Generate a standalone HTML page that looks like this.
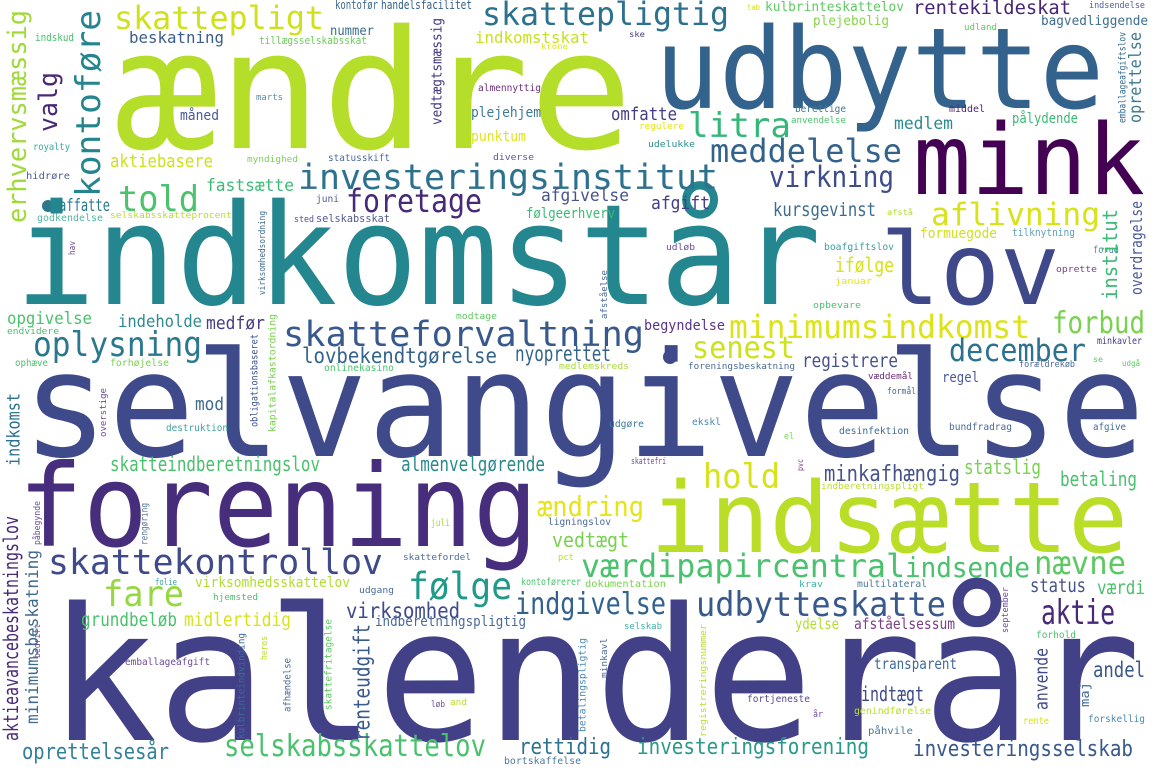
<!DOCTYPE html>
<html><head><meta charset="utf-8"><style>
html,body{margin:0;padding:0;background:#fff;width:1155px;height:770px;overflow:hidden}
svg{display:block}
text{font-family:"DejaVu Sans Mono","Liberation Mono",monospace}
</style></head><body>
<svg id="cloud" width="1155" height="770" viewBox="0 0 1155 770" xmlns="http://www.w3.org/2000/svg">
<rect width="1155" height="770" fill="#fff"/>
<circle cx="48" cy="206" r="6" fill="#2a788e"/>
<circle cx="670" cy="357" r="7" fill="#3e4a89"/>
</svg>
<script>
// horizontal words: [word, left, right, baseline, fontSize, color]
const hWords = [
["kalenderår",48,1141,740,185,"#424086"],
["indkomstår",15,821,304,140,"#24868e"],
["selvangivelse",22,1145,456,146,"#3e4a89"],
["ændre",114,633,148,165,"#b5de2b"],
["udbytte",655,1104,108,112,"#33638d"],
["mink",913,1145,194,98,"#440154"],
["lov",880,1060,304,100,"#3f4889"],
["forening",18,538,546,114,"#472e7c"],
["indsætte",650,1128,552,98,"#bade28"],
["skattepligt",114,324,29,32,"#d0e11c"],
["skattepligtig",482,729,25,32,"#2c728e"],
["beskatning",129,224,43,16,"#3b5e8c"],
["indkomstskat",475,589,43,16,"#c8e020"],
["nummer",330,374,35,13,"#3a6e8e"],
["handelsfacilitet",381,472,9,12,"#355f8d"],
["kontofør",335,378,9,12,"#3e6a8c"],
["tillægsselskabsskat",259,367,44,11,"#6ccd5a"],
["indskud",35,74,41,11,"#4ac16d"],
["kulbrinteskattelov",765,904,11,13,"#5ec962"],
["rentekildeskat",913,1071,14,19,"#482475"],
["tab",747,760,10,8,"#d5e21a"],
["indsendelse",1089,1145,8,9,"#4f5f94"],
["plejebolig",813,889,25,13,"#86d549"],
["udland",964,997,30,9,"#5ec962"],
["bagvedliggende",1041,1148,25,13,"#3d6e8e"],
["ske",629,645,37,8,"#443983"],
["krone",541,568,49,8,"#e0e31c"],
["litra",688,791,137,34,"#35b779"],
["omfatte",611,677,120,18,"#433e85"],
["medlem",894,953,129,17,"#2a8a8e"],
["meddelelse",710,902,162,32,"#33638d"],
["berettige",795,846,112,10,"#3e7a8e"],
["anvendelse",791,846,123,9,"#4ac16d"],
["middel",949,985,112,10,"#482878"],
["pålydende",1012,1078,123,14,"#3bba75"],
["regulere",639,684,129,9,"#e5e419"],
["udelukke",648,695,147,9,"#2c8d8c"],
["diverse",493,534,160,9,"#5c5799"],
["plejehjem",471,541,117,14,"#3f7a9a"],
["punktum",471,526,141,14,"#e1e31c"],
["almennyttig",478,541,91,10,"#6d2f7c"],
["marts",256,283,100,9,"#5b8fa8"],
["måned",180,219,120,14,"#4a5a9a"],
["aktiebasere",110,213,167,18,"#cfe11c"],
["royalty",33,70,150,10,"#39a8a0"],
["myndighed",247,298,162,9,"#7ad151"],
["statusskift",328,390,161,10,"#4d6b9a"],
["hidrøre",26,70,179,10,"#4f5f90"],
["investeringsinstitut",298,718,189,35,"#2c718e"],
["told",118,199,211,36,"#4cc26c"],
["foretage",346,482,212,32,"#482878"],
["fastsætte",206,294,191,17,"#3bbb75"],
["affatte",59,110,211,17,"#2a788e"],
["godkendelse",37,103,221,10,"#52b6a0"],
["selskabsskatteprocent",110,232,218,9,"#b8de29"],
["juni",316,339,202,10,"#5a5a9a"],
["sted",294,314,222,9,"#5a4a8a"],
["selskabsskat",316,390,222,11,"#525a90"],
["afgivelse",541,629,201,17,"#46528b"],
["følgeerhverv",526,615,218,14,"#3bba75"],
["afgift",651,710,209,18,"#433e85"],
["virkning",769,894,187,29,"#3e4c8a"],
["kursgevinst",773,876,216,19,"#3d6c8e"],
["aflivning",931,1100,225,31,"#d8e219"],
["afstå",887,913,215,8,"#b0dd2f"],
["formuegode",920,997,238,14,"#d0e11c"],
["tilknytning",1012,1075,236,11,"#5fa2b5"],
["boafgiftslov",824,894,250,10,"#3d9ea0"],
["forud",1093,1119,253,10,"#4a8ab0"],
["udløb",666,695,250,9,"#6b4c9a"],
["ifølge",835,894,272,20,"#d7e219"],
["januar",835,872,284,9,"#e5e419"],
["oprette",1056,1097,272,9,"#7a4088"],
["opbevare",813,861,308,9,"#4ac16d"],
["opgivelse",7,92,324,17,"#4ac16d"],
["endvidere",7,59,334,9,"#4ac16d"],
["indeholde",118,202,327,17,"#2f8a8e"],
["medfør",206,265,329,18,"#463e85"],
["modtage",456,497,319,9,"#5ec962"],
["skatteforvaltning",283,644,346,35,"#38598c"],
["oplysning",33,202,356,34,"#2a788e"],
["ophæve",15,48,366,10,"#4ac16d"],
["forhøjelse",110,169,366,10,"#7ad151"],
["lovbekendtgørelse",302,497,363,21,"#33638d"],
["onlinekasino",324,394,371,10,"#4ac16d"],
["nyoprettet",515,611,361,21,"#33638d"],
["medlemskreds",559,629,369,9,"#a8db34"],
["minimumsindkomst",729,1030,338,32,"#dde318"],
["begyndelse",644,725,330,14,"#5a3488"],
["forbud",1052,1145,333,30,"#7ad151"],
["minkavler",1097,1142,344,10,"#443983"],
["senest",692,795,358,30,"#cde11d"],
["december",949,1086,361,31,"#2c728e"],
["registrere",802,898,367,19,"#46528b"],
["foreningsbeskatning",688,795,369,9,"#4a6a9a"],
["forældrekøb",1019,1075,367,9,"#4a6a9a"],
["se",1093,1103,362,8,"#5ec962"],
["udgå",1122,1140,366,8,"#5ec962"],
["væddemål",868,913,379,9,"#6d2f7c"],
["regel",942,979,382,14,"#4a5a9a"],
["formål",887,916,394,9,"#4a6a9a"],
["mod",195,224,410,18,"#3e6a8c"],
["destruktion",166,228,431,10,"#3ea39c"],
["udgøre",609,644,427,10,"#3e7a9a"],
["ekskl",692,721,425,10,"#4a8ab0"],
["desinfektion",839,909,434,10,"#3e6a9a"],
["bundfradrag",949,1012,430,10,"#4a6a9a"],
["afgive",1093,1126,430,10,"#3e6a9a"],
["el",784,794,439,9,"#7ad151"],
["skattefri",631,666,464,9,"#6b4c9a"],
["skatteindberetningslov",110,320,471,20,"#4ac16d"],
["almenvelgørende",401,545,471,20,"#2a8a8e"],
["hold",703,780,488,34,"#d8e219"],
["minkafhængig",824,960,481,22,"#46528b"],
["statslig",964,1041,474,20,"#7ad151"],
["betaling",1060,1137,486,20,"#4ac16d"],
["indberetningspligt",821,924,489,9,"#b8de29"],
["ændring",537,644,516,28,"#e5e419"],
["ligningslov",548,611,525,10,"#4a6a9a"],
["juli",431,450,526,10,"#a8db34"],
["vedtægt",552,629,547,20,"#7ad151"],
["skattefordel",403,471,560,9,"#4a6a9a"],
["pct",558,574,560,9,"#b8de29"],
["værdipapircentral",581,905,577,32,"#4ac16d"],
["indsende",905,1030,577,28,"#4ac16d"],
["nævne",1034,1126,574,32,"#5ec962"],
["skattekontrollov",48,383,574,35,"#3e4a89"],
["følge",408,512,599,37,"#1f9a8a"],
["fare",103,184,606,36,"#95d840"],
["folie",155,177,585,9,"#3ea39c"],
["virksomhedsskattelov",195,350,587,14,"#b0dd2f"],
["udgang",359,394,593,9,"#4a6a9a"],
["kontoførerer",521,581,585,10,"#4ac16d"],
["dokumentation",585,666,587,10,"#7ad151"],
["krav",799,823,587,9,"#3eb3a0"],
["multilateral",857,927,587,10,"#4a7a9a"],
["status",1030,1086,592,19,"#46528b"],
["værdi",1097,1145,594,19,"#4ac16d"],
["hjemsted",213,258,600,9,"#4ac16d"],
["indgivelse",515,666,614,30,"#33638d"],
["udbytteskatte",696,946,616,34,"#38598c"],
["aktie",1041,1115,624,34,"#482878"],
["virksomhed",346,460,618,21,"#3e4a89"],
["grundbeløb",81,177,626,19,"#4ac16d"],
["midlertidig",184,291,626,19,"#d8e219"],
["indberetningspligtig",375,526,626,14,"#4a6a9a"],
["selskab",624,662,629,9,"#3eb3a0"],
["ydelse",795,839,629,15,"#b0dd2f"],
["afståelsessum",854,955,629,15,"#7a4088"],
["forhold",1036,1076,638,10,"#4ac16d"],
["emballageafgift",125,210,665,10,"#6b4c9a"],
["transparent",874,957,669,15,"#3e6a9a"],
["andel",1093,1145,677,21,"#38598c"],
["indtægt",861,924,701,20,"#3e4a89"],
["fortjeneste",747,810,702,10,"#5a4a8a"],
["løb",431,445,707,9,"#6b4c9a"],
["and",450,467,705,9,"#b8de29"],
["år",813,823,717,9,"#6b4c9a"],
["genindførelse",854,931,714,10,"#b8de29"],
["rente",1023,1049,724,10,"#d8e219"],
["forskellig",1088,1145,722,10,"#4a8ab0"],
["påhvile",868,913,734,10,"#4a7a9a"],
["oprettelsesår",22,169,759,22,"#33809a"],
["selskabsskattelov",224,486,756,30,"#4ac16d"],
["rettidig",519,611,754,22,"#2c728e"],
["bortskaffelse",504,581,764,10,"#4a7a9a"],
["investeringsforening",637,869,754,22,"#2a9a8a"],
["investeringsselskab",913,1133,756,22,"#38598c"]
];
// vertical words (read bottom to top): [word, left, top, bottom, fontSize, color]
const vWords = [
["erhvervsmæssig",6,10,223,26,"#a0da39"],
["kontoføre",74,10,197,34,"#25858e"],
["valg",37,72,132,26,"#482878"],
["vedtægtsmæssig",431,18,125,14,"#443983"],
["oprettelse",1128,32,123,17,"#3e7a8e"],
["emballageafgiftslov",1118,32,123,10,"#31688e"],
["institut",1102,209,300,20,"#3bbb75"],
["overdragelse",1130,201,295,16,"#4a5a9a"],
["afståelse",600,270,319,9,"#4a6a9a"],
["hav",68,241,255,9,"#6b4c9a"],
["virksomhedsordning",258,211,295,9,"#3e6a8c"],
["obligationsbaseret",250,334,427,10,"#3b528b"],
["kapitalafkastordning",268,314,432,10,"#7ad151"],
["indkomst",6,393,466,18,"#2c728e"],
["overstige",99,388,437,9,"#6b4c9a"],
["pvc",797,459,471,8,"#7a4088"],
["påbegynde",33,501,545,9,"#6b4c9a"],
["rengøring",140,503,545,10,"#5a7a9a"],
["september",1001,587,633,9,"#6b4c9a"],
["aktieavancebeskatningslov",3,516,741,20,"#482878"],
["minimumsbeskatning",25,550,724,17,"#3e6a8c"],
["bedrift",33,624,658,9,"#6b4c9a"],
["kulbrinteindvinding",237,633,739,10,"#3e6a9a"],
["heros",260,636,660,9,"#b8de29"],
["afhændelse",283,658,712,10,"#4a6a9a"],
["skattefritagelse",324,619,710,10,"#5ec962"],
["renteudgift",353,624,741,22,"#38598c"],
["betalingspligtig",578,638,732,10,"#4a8ab0"],
["minkavl",600,638,678,9,"#4a6a9a"],
["registreringsnummer",699,624,737,9,"#b8de29"],
["anvende",1034,648,710,18,"#3e4a89"],
["maj",1080,682,707,12,"#3e6a9a"]
];
const NS = "http://www.w3.org/2000/svg";
const svg = document.getElementById("cloud");
function slug(w){return "word-" + w.normalize("NFD").replace(/[^\w]/g,"").toLowerCase();}
hWords.forEach(function(d){
  const t = document.createElementNS(NS,"text");
  t.setAttribute("x", d[1]);
  t.setAttribute("y", d[3]);
  t.setAttribute("font-size", d[4]);
  t.setAttribute("fill", d[5]);
  t.setAttribute("textLength", d[2]-d[1]);
  t.setAttribute("lengthAdjust","spacingAndGlyphs");
  t.textContent = d[0];
  
  
  svg.appendChild(t);
});
vWords.forEach(function(d){
  const t = document.createElementNS(NS,"text");
  const bx = d[1] + 0.76*d[4];
  t.setAttribute("transform","translate("+bx+","+d[3]+") rotate(-90)");
  t.setAttribute("x", 0);
  t.setAttribute("y", 0);
  t.setAttribute("font-size", d[4]);
  t.setAttribute("fill", d[5]);
  t.setAttribute("textLength", d[3]-d[2]);
  t.setAttribute("lengthAdjust","spacingAndGlyphs");
  t.textContent = d[0];
  
  
  svg.appendChild(t);
});
</script>
</body></html>
